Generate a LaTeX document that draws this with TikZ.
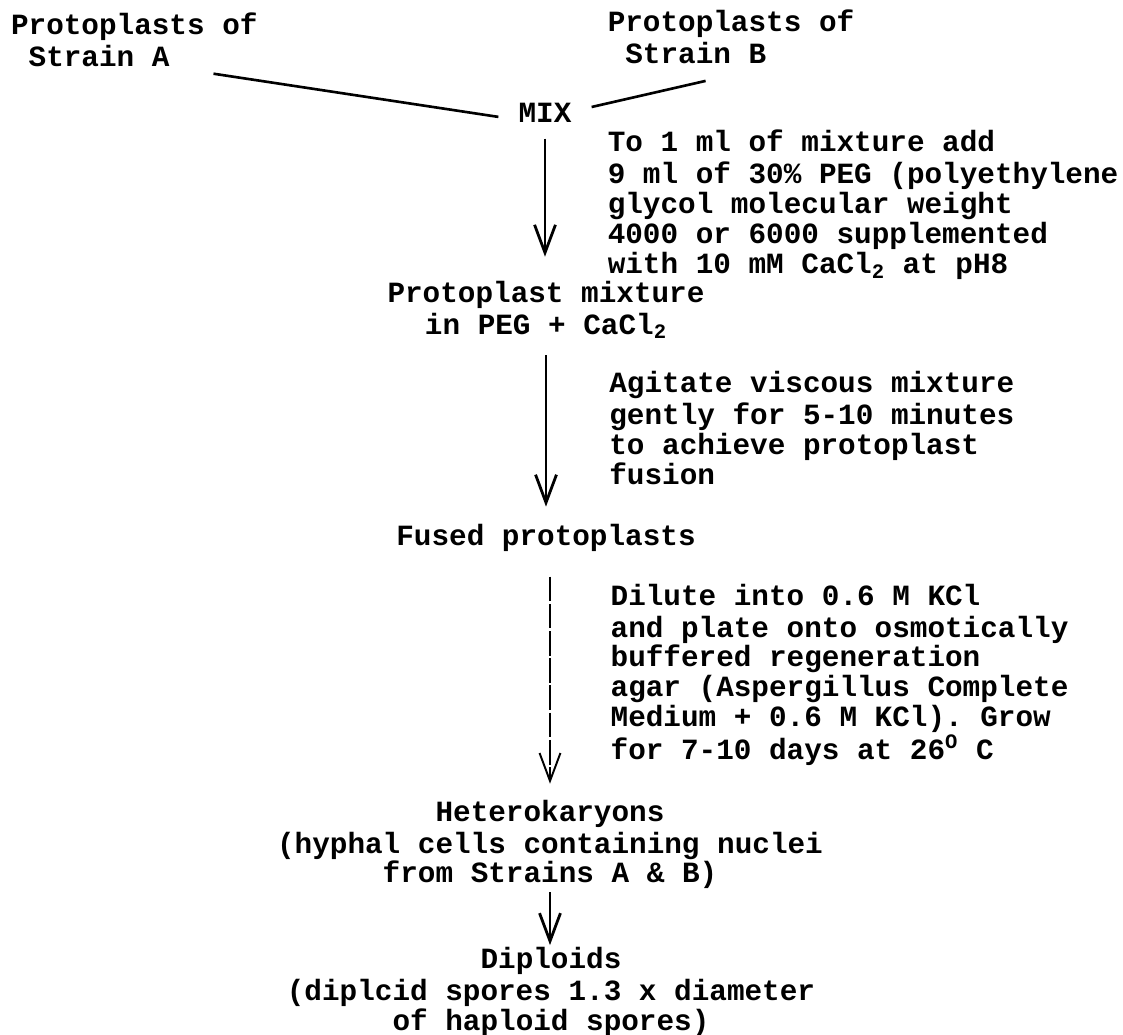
\documentclass[tikz,border=0pt]{standalone}
\usepackage{fontspec}
\setmonofont{Liberation Mono}
\usetikzlibrary{arrows.meta}
\definecolor{ink}{RGB}{0,0,0}
\newcommand{\typed}{\ttfamily\bfseries\fontsize{16.7pt}{17pt}\selectfont}
\tikzset{stage/.style={inner sep=0pt,align=center,font=\typed,text=ink},
  note/.style={inner sep=0pt,align=left,font=\typed,text=ink},
  flow/.style={-{Straight Barb[length=15.9pt,width=11.9pt]},line width=1.6pt,ink},
  link/.style={line width=1.5pt,ink}}

\begin{document}
\begin{tikzpicture}[x=0.02cm, y=-0.02cm]
\useasboundingbox (0,0) rectangle (1123,1035);
\node[note, anchor=north west] (strainA) at (10.7,12.3) {\strut Protoplasts of\\~Strain A};
\node[note, anchor=north west] (strainB) at (607.4,9.1) {\strut Protoplasts of\\~Strain B};
\node[stage, inner xsep=11.3pt] (mix) at (545,116.9) {\strut MIX};
\coordinate (aTail) at (213.5,73.7);
\coordinate (bTail) at (705.6,80.9);
\draw[link] (aTail) -- (mix.west);
\draw[link] (mix.12) -- (bTail);
\node[note, anchor=north west] (addPEG) at (607.4,129.4) {\strut To 1 ml of mixture add\\
  9 ml of 30\% PEG (polyethylene\\glycol molecular weight\\
  4000 or 6000 supplemented\\with 10 mM CaCl\textsubscript{2} at pH8};
\node[stage, anchor=north] (mixture) at (546,280.8) {\strut Protoplast mixture\\
  in PEG + CaCl\textsubscript{2}\strut};
\node[note, anchor=north west] (agitate) at (609,370.9) {\strut Agitate viscous mixture\\
  gently for 5-10 minutes\\to achieve protoplast\\fusion};
\node[stage, anchor=north] (fused) at (546,524.2) {\strut Fused protoplasts};
\node[note, anchor=north west] (dilute) at (610.3,583.4) {\strut Dilute into 0.6 M KCl\\
  and plate onto osmotically\\buffered regeneration\\agar (Aspergillus Complete\\
  Medium + 0.6 M KCl). Grow\\for 7-10 days at 26\textsuperscript{O} C};
\node[stage, anchor=north] (hetero) at (550,799.5) {\strut Heterokaryons\\
  (hyphal cells containing nuclei\\from Strains A \& B)\strut};
\node[stage, anchor=north] (diploids) at (551,947.2) {\strut Diploids\\
  (diplcid spores 1.3 x diameter\\of haploid spores)\strut};
\draw[flow, shorten <=3.6pt, shorten >=13.7pt] (mix.south) -- (mix.south |- mixture.north);
\draw[flow, shorten <=6.6pt, shorten >=10pt] (mixture.south) -- (mixture.south |- fused.north);
\draw[flow, line width=1.1pt, dash pattern=on 14pt off 1.5pt, shorten <=12.2pt, shorten >=9pt]
  (fused.south -| hetero.north) -- (hetero.north);
\draw[flow, shorten >=1.2pt] (hetero.south) -- (hetero.south |- diploids.north);
\end{tikzpicture}
\end{document}
